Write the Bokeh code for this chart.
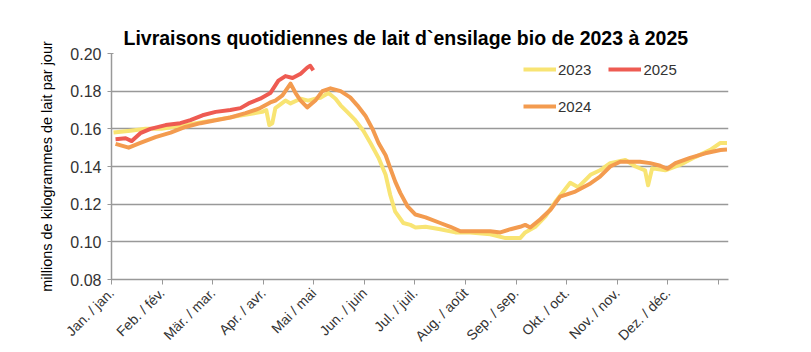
from bokeh.plotting import figure
from bokeh.models import Range1d, FixedTicker, NumeralTickFormatter, Legend, LegendItem
from bokeh.embed import file_html
from bokeh.resources import INLINE
import math

# Month labels (tick positions are month starts, 0 = 1 Jan)
month_labels = ["Jan. / jan.", "Feb. / fév.", "Mär. / mar.", "Apr. / avr.", "Mai / mai",
                "Jun. / juin", "Jul. / juil.", "Aug. / août", "Sep. / sep.", "Okt. / oct.",
                "Nov. / nov.", "Dez. / déc."]
y_ticks = [0.08, 0.10, 0.12, 0.14, 0.16, 0.18, 0.20]

# 2023 series (x in months since 1 Jan, value in million kg/day)
x_2023 = [0.04, 0.375, 0.67, 0.99, 1.46, 2.00, 2.55, 2.98, 3.06, 3.12, 3.18, 3.24, 3.44, 3.54,
          3.74, 3.89, 4.03, 4.13, 4.29, 4.43, 4.53, 4.66, 4.82, 4.98, 5.12, 5.28, 5.42, 5.51,
          5.61, 5.77, 5.91, 6.01, 6.21, 6.50, 6.80, 7.09, 7.49, 7.79, 8.08, 8.18, 8.38, 8.58,
          8.77, 9.07, 9.23, 9.47, 9.66, 9.86, 10.16, 10.36, 10.55, 10.61, 10.69, 10.95, 11.25,
          11.54, 11.84, 12.04, 12.17]
v_2023 = [0.158, 0.159, 0.160, 0.160, 0.162, 0.1645, 0.167, 0.169, 0.170, 0.162, 0.163, 0.171,
          0.175, 0.1735, 0.176, 0.175, 0.176, 0.1765, 0.179, 0.176, 0.1725, 0.169, 0.1646, 0.159,
          0.1525, 0.1446, 0.1356, 0.125, 0.116, 0.110, 0.109, 0.1076, 0.108, 0.1067, 0.105,
          0.105, 0.104, 0.102, 0.102, 0.105, 0.108, 0.1135, 0.121, 0.1314, 0.129, 0.1356,
          0.138, 0.1418, 0.1435, 0.140, 0.138, 0.130, 0.139, 0.138, 0.141, 0.145, 0.1488,
          0.1525, 0.1525]

# 2024 series
x_2024 = [0.08, 0.34, 0.57, 0.87, 1.17, 1.46, 1.76, 2.06, 2.35, 2.65, 2.94, 3.14, 3.24, 3.38,
          3.54, 3.64, 3.74, 3.87, 4.03, 4.17, 4.33, 4.53, 4.72, 4.86, 5.02, 5.16, 5.28, 5.42,
          5.51, 5.61, 5.71, 5.85, 6.01, 6.21, 6.50, 6.70, 6.90, 7.19, 7.49, 7.69, 7.89, 8.08,
          8.18, 8.28, 8.48, 8.68, 8.87, 9.17, 9.47, 9.66, 9.86, 10.06, 10.45, 10.65, 10.85,
          10.99, 11.15, 11.44, 11.74, 12.04, 12.17]
v_2024 = [0.152, 0.150, 0.1525, 0.1556, 0.158, 0.161, 0.163, 0.1646, 0.166, 0.1683, 0.171,
          0.174, 0.175, 0.1778, 0.184, 0.179, 0.175, 0.1714, 0.175, 0.180, 0.1815, 0.180,
          0.1767, 0.1725, 0.167, 0.160, 0.1525, 0.146, 0.1393, 0.132, 0.126, 0.119, 0.1145,
          0.113, 0.110, 0.108, 0.1056, 0.1056, 0.1056, 0.105, 0.1067, 0.108, 0.109, 0.1076,
          0.112, 0.117, 0.124, 0.1267, 0.131, 0.1346, 0.140, 0.1425, 0.1425, 0.1418, 0.1404,
          0.1388, 0.1418, 0.1446, 0.147, 0.1488, 0.149]

# 2025 series
x_2025 = [0.08, 0.28, 0.40, 0.57, 0.77, 1.07, 1.36, 1.56, 1.80, 2.06, 2.35, 2.55, 2.71, 2.94,
          3.14, 3.30, 3.44, 3.58, 3.74, 3.87, 3.93, 3.99]
v_2025 = [0.1545, 0.155, 0.1535, 0.1577, 0.160, 0.162, 0.163, 0.1646, 0.1672, 0.169, 0.170,
          0.171, 0.1735, 0.176, 0.179, 0.1856, 0.188, 0.187, 0.1893, 0.1925, 0.1935, 0.191]

c2023 = "#F8E473"
c2024 = "#F39B4F"
c2025 = "#EE5B52"

p = figure(width=811, height=352, output_backend="svg", toolbar_location=None,
           x_range=Range1d(0, 12.2), y_range=Range1d(0.08, 0.20),
           min_border_left=111, min_border_right=83, min_border_top=53, min_border_bottom=72)
p.outline_line_color = None
p.background_fill_color = "white"
p.border_fill_color = "white"

p.title.text = "Livraisons quotidiennes de lait d`ensilage bio de 2023 à 2025"
p.title.text_font = "Liberation Sans"
p.title.text_font_size = "19.5px"
p.title.text_font_style = "bold"
p.title.text_color = "#000000"
p.title.align = "left"
p.title.offset = 12
p.title.standoff = 10

r23 = p.line(x_2023, v_2023, line_color=c2023, line_width=4, line_join="round")
r24 = p.line(x_2024, v_2024, line_color=c2024, line_width=4, line_join="round")
r25 = p.line(x_2025, v_2025, line_color=c2025, line_width=4, line_join="round")

# axes
p.xaxis.ticker = FixedTicker(ticks=list(range(13)))
p.xaxis.major_label_overrides = {i: (month_labels[i] if i < 12 else "") for i in range(13)}
p.xaxis.major_label_orientation = math.pi / 4
p.xaxis.major_label_text_font = "Liberation Sans"
p.xaxis.major_label_text_font_size = "14px"
p.xaxis.major_label_text_color = "#333333"
p.xaxis.major_label_standoff = 6
p.xaxis.minor_tick_line_color = None
p.xaxis.major_tick_out = 5
p.xaxis.major_tick_in = 0
p.xaxis.axis_line_color = "#999999"
p.xaxis.major_tick_line_color = "#999999"
p.xaxis.axis_line_width = 1.5

p.yaxis.ticker = FixedTicker(ticks=y_ticks)
p.yaxis.formatter = NumeralTickFormatter(format="0.00")
p.yaxis.major_label_text_font = "Liberation Sans"
p.yaxis.major_label_text_font_size = "16px"
p.yaxis.major_label_text_color = "#333333"
p.yaxis.major_label_standoff = 6
p.yaxis.minor_tick_line_color = None
p.yaxis.major_tick_out = 4
p.yaxis.major_tick_in = 2
p.yaxis.axis_line_color = "#999999"
p.yaxis.major_tick_line_color = "#999999"
p.yaxis.axis_line_width = 1.5
p.yaxis.axis_label = "millions de kilogrammes de lait par jour"
p.yaxis.axis_label_text_font = "Liberation Sans"
p.yaxis.axis_label_text_font_size = "14.5px"
p.yaxis.axis_label_text_font_style = "normal"
p.yaxis.axis_label_text_color = "#000000"
p.yaxis.axis_label_standoff = 12

p.xgrid.grid_line_color = None
p.ygrid.ticker = FixedTicker(ticks=y_ticks[1:])
p.ygrid.grid_line_color = "#999999"
p.ygrid.grid_line_width = 1.5

leg1 = Legend(items=[LegendItem(label="2023", renderers=[r23]),
                     LegendItem(label="2025", renderers=[r25])],
              orientation="horizontal", location=(412, 200))
leg2 = Legend(items=[LegendItem(label="2024", renderers=[r24])],
              orientation="horizontal", location=(412, 163))
for lg in (leg1, leg2):
    lg.glyph_width = 33
    lg.glyph_height = 20
    lg.label_height = 20
    lg.label_standoff = 2
    lg.spacing = 17
    lg.padding = 0
    lg.margin = 0
    lg.border_line_color = None
    lg.background_fill_alpha = 0
    lg.label_text_font = "Liberation Sans"
    lg.label_text_font_size = "15px"
    lg.label_text_color = "#333333"
    p.add_layout(lg)

open("out.html", "w").write(file_html(p, INLINE))
